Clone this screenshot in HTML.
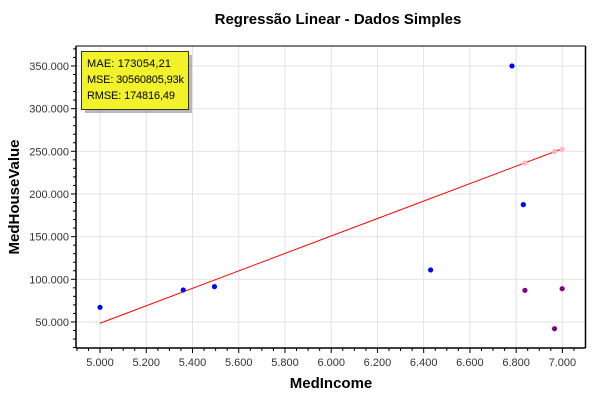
<!DOCTYPE html>
<html><head><meta charset="utf-8"><style>
body{margin:0;background:#fff;font-family:"Liberation Sans",sans-serif}
svg text{font-family:"Liberation Sans",sans-serif}
</style></head><body>
<svg id="c" width="600" height="400">
<text x="338" y="24" text-anchor="middle" font-size="15" font-weight="bold">Regressão Linear - Dados Simples</text>
<text x="331" y="388" text-anchor="middle" font-size="15" font-weight="bold">MedIncome</text>
<text transform="translate(19,197) rotate(-90)" text-anchor="middle" font-size="15" font-weight="bold">MedHouseValue</text>
<g id="grid"></g><g id="axes"></g><g id="marks"></g>
<g>
<rect x="85" y="55" width="107" height="58" fill="#888" opacity="0.6"/>
<rect x="81.5" y="51.5" width="107" height="58" fill="#f2f22a" stroke="#333" stroke-width="1"/>
<text x="87" y="67" font-size="11" textLength="84">MAE: 173054,21</text>
<text x="87" y="83" font-size="11" textLength="97">MSE: 30560805,93k</text>
<text x="87" y="99" font-size="11" textLength="88">RMSE: 174816,49</text>
</g>
</svg>
<script>
const xTicks=[5000,5200,5400,5600,5800,6000,6200,6400,6600,6800,7000];
const yTicks=[50000,100000,150000,200000,250000,300000,350000];
const actualX=[5000,5360,5495,6430,6782,6831];
const actualY=[67200,87500,91400,111000,350000,187500];
const testX=[6838,6966,6999];
const testY=[87100,42100,89000];
const predX=[6838,6966,6999];
const predY=[236400,249600,252400];
const lineX=[5000,6990];
const lineY=[48500,252000];
const L=76,R=585.5,T=46,B=348,xmin=4896,xmax=7100,ymin=19500,ymax=373400;
const sx=v=>L+(v-xmin)/(xmax-xmin)*(R-L);
const sy=v=>B-(v-ymin)/(ymax-ymin)*(B-T);
const NS='http://www.w3.org/2000/svg';
function mk(p,t,a){const e=document.createElementNS(NS,t);for(const k in a)e.setAttribute(k,a[k]);p.appendChild(e);return e;}
const g=document.getElementById('grid'),ax=document.getElementById('axes'),m=document.getElementById('marks');
xTicks.forEach(v=>{const x=sx(v);
 const l=mk(g,'line',{x1:x,x2:x,y1:T,y2:B,stroke:'#e2e2e2'});
 
 
 mk(ax,'line',{x1:x,x2:x,y1:B,y2:B+5,stroke:'#000'});
 const t=mk(ax,'text',{x:x,y:B+18,'text-anchor':'middle','font-size':'11',fill:'#333'});
 t.textContent=(v/1000).toFixed(3);
 
 });
for(let v=4900;v<=7090;v+=50){if(v%200){const x=sx(v);mk(ax,'line',{x1:x,x2:x,y1:B,y2:B+3,stroke:'#000'});}}
yTicks.forEach(v=>{const y=sy(v);
 const l=mk(g,'line',{x1:L,x2:R,y1:y,y2:y,stroke:'#e2e2e2'});
 
 
 mk(ax,'line',{x1:L-5,x2:L,y1:y,y2:y,stroke:'#000'});
 const t=mk(ax,'text',{x:L-7,y:y+4,'text-anchor':'end','font-size':'11',fill:'#333'});
 t.textContent=(v/1000).toFixed(3);
 
 });
for(let v=20000;v<=370000;v+=10000){if(v%50000){const y=sy(v);mk(ax,'line',{x1:L-3,x2:L,y1:y,y2:y,stroke:'#000'});}}
mk(ax,'line',{x1:L,x2:L,y1:T,y2:B,stroke:'#000','stroke-width':1.5});
mk(ax,'line',{x1:L,x2:R,y1:B,y2:B,stroke:'#000','stroke-width':1.5});
mk(ax,'line',{x1:R,x2:R,y1:T,y2:B,stroke:'#000','stroke-width':1.5});
mk(ax,'line',{x1:L,x2:R,y1:T,y2:T,stroke:'#000','stroke-width':1});
const rl=mk(m,'line',{x1:sx(lineX[0]),y1:sy(lineY[0]),x2:sx(lineX[1]),y2:sy(lineY[1]),stroke:'#f00','stroke-width':1});


function pts(X,Y,c,n){X.forEach((v,i)=>{const e=mk(m,'circle',{cx:sx(v),cy:sy(Y[i]),r:2.6,fill:c});
 
 });}
pts(actualX,actualY,'#00f','train-point');
pts(predX,predY,'#ffb6c1','prediction-point');
pts(testX,testY,'#800080','test-point');
</script>
</body></html>
